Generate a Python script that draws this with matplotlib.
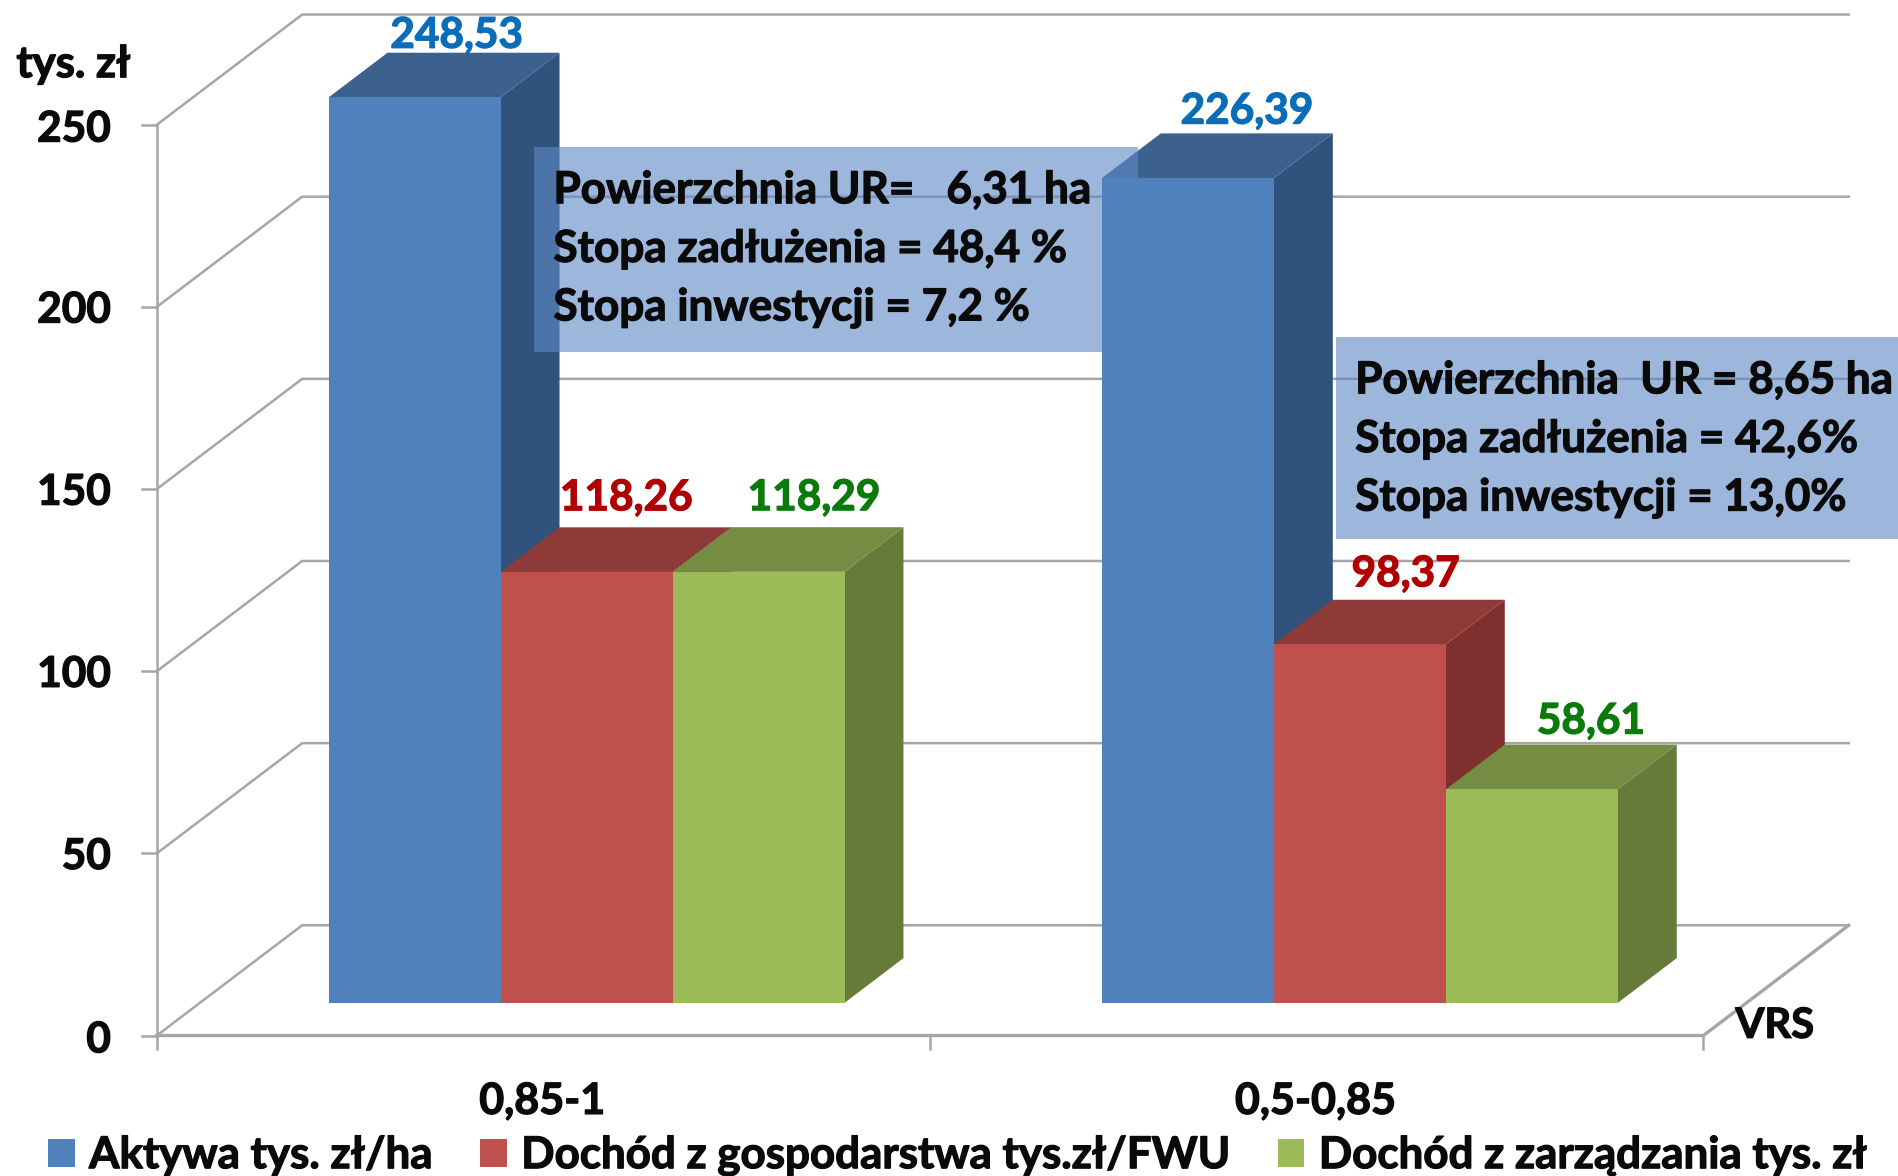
import matplotlib
matplotlib.use("Agg")
import matplotlib.pyplot as plt
from matplotlib.patches import Polygon, Rectangle
import matplotlib.patheffects as pe

plt.rcParams['font.family'] = ['Lato', 'DejaVu Sans']

categories = ['0,85-1', '0,5-0,85']
series_names = ['Aktywa tys. zł/ha', 'Dochód z gospodarstwa tys.zł/FWU', 'Dochód z zarządzania tys. zł']
aktywa = [248.53, 226.39]
dochod_gosp = [118.26, 98.37]
dochod_zarz = [118.29, 58.61]
y_ticks = [0, 50, 100, 150, 200, 250]
box_texts = [
    ['Powierzchnia UR=   6,31 ha', 'Stopa zadłużenia = 48,4 %', 'Stopa inwestycji = 7,2 %'],
    ['Powierzchnia  UR = 8,65 ha', 'Stopa zadłużenia = 42,6%', 'Stopa inwestycji = 13,0%'],
]
series = [aktywa, dochod_gosp, dochod_zarz]
front = ['#4F81BD', '#C0504D', '#9BBB59']
side = ['#31527C', '#7F302E', '#667A3A']
top = ['#3C618F', '#8E3A38', '#748D43']
label_col = ['#0B6CB8', '#B00000', '#0A7A0A']
# label nudges in displayed pixels (series, category)
label_nudge = [[(-1, -2), (13, 2)], [(-3, 8), (2, 5)], [(10, 8), (13, 3)]]
tick_nudge = [1, 0, 0, 0, 0, 1]

W, H = 1899, 1176
fig = plt.figure(figsize=(W / 100, H / 100), dpi=100, facecolor='white')
ax = fig.add_axes([0, 0, 1, 1])
ax.axis('off')
PXX = 638.5   # displayed px per category
PXY = 3.008   # displayed px per value unit
x0, y0 = 129.5, 855
ax.set_xlim((0 - x0) / PXX, (1568 - x0) / PXX)
ax.set_ylim((y0 - 971) / PXY, (y0 - 0) / PXY)

DX, DY = 120 / PXX, 91 / PXY
BAR_D = 0.297
BAR_L = 0.405
BW = 142 / PXX
grid = '#A6A6A6'
ink = '#0A0A0A'
ymax = 250
ncat = len(categories)
heavy = [pe.withStroke(linewidth=0.9, foreground=ink)]

def bold(x, y, s, size, color=ink, ha='left', z=21):
    return ax.text(x, y, s, fontsize=size, fontweight='bold', color=color, ha=ha, va='center', zorder=z,
                   path_effects=[pe.withStroke(linewidth=0.9, foreground=color)])

# walls
for v in y_ticks:
    ax.plot([0, DX, ncat + DX], [v, v + DY, v + DY], color=grid, lw=1.8, zorder=1, solid_joinstyle='miter')
    ax.plot([-12 / PXX, 0], [v, v], color=grid, lw=1.8, zorder=1)
ax.plot([0, 0], [0, ymax], color=grid, lw=1.8, zorder=1)
ax.plot([0, ncat, ncat + DX], [0, 0, DY], color=grid, lw=2.4, zorder=1)
for i in range(ncat + 1):
    ax.plot([i, i], [0, -11 / PXY], color=grid, lw=1.8, zorder=1)

# bars
for c in range(ncat):
    cx = c + 0.5 + BAR_D * DX
    for s, vals in enumerate(series):
        v = vals[c]
        l = cx + (s - 1.5) * BW
        b = BAR_D * DY
        r = l + BW
        dx, dy = BAR_L * DX, BAR_L * DY
        z = 3 + c * 5 + s
        ax.add_patch(Polygon([(r, b), (r + dx, b + dy), (r + dx, b + v + dy), (r, b + v)],
                             fc=side[s], ec='none', zorder=z))
        ax.add_patch(Polygon([(l, b + v), (r, b + v), (r + dx, b + v + dy), (l + dx, b + v + dy)],
                             fc=top[s], ec='none', zorder=z))
        # fronts of the second group stay above the info box
        ax.bar(l, v, BW, bottom=b, align='edge', color=front[s], lw=0, zorder=(19 if c else z + 0.01),
               label=series_names[s] if c == 0 else None)
        nx, ny = label_nudge[s][c]
        bold(l + BW / 2 + dx * 0.67 + 0.005 + nx / PXX, b + v + dy + (16 + ny) / PXY,
             f'{v:.2f}'.replace('.', ','), 30.5, color=label_col[s], ha='center', z=22)

# info boxes
boxes = [(441, 121, 940, 291), (1103, 278, 1568, 445)]
for (a, t, e, bt), lines in zip(boxes, box_texts):
    xa, xe = (a - x0) / PXX, (e - x0) / PXX
    yt, yb = (y0 - t) / PXY, (y0 - bt) / PXY
    ax.add_patch(Rectangle((xa, yb), xe - xa, yt - yb, fc='#5E8AC5', alpha=0.61, ec='none', zorder=18))
    for k, line in enumerate(lines):
        bold(xa + 16 / PXX, yt - (36 + 48.5 * k) / PXY, line, 31.7)

# axis text
for v, n in zip(y_ticks, tick_nudge):
    bold(-38 / PXX, v - (3 + n) / PXY, str(v), 30.5, ha='right')
bold(-116 / PXX, (y0 - 53) / PXY, 'tys. zł', 31.5)
bold((1433 - x0) / PXX, (y0 - 847) / PXY, 'VRS', 30)
for c, name in enumerate(categories):
    bold(c + 0.5 - 1 / PXX, -54 / PXY, name, 31, ha='center')

leg = ax.legend(loc='center', bbox_to_anchor=(790.5 / 1568, 1 - 954 / 971), ncol=3, frameon=False,
                handlelength=0.6, handleheight=0.6, handletextpad=0.33, columnspacing=1.1, borderpad=0,
                prop={'family': ['Lato', 'DejaVu Sans'], 'weight': 'bold', 'size': 31.6})
for t in leg.get_texts():
    t.set_color(ink)
    t.set_path_effects(heavy)

fig.savefig('out.png', dpi=100, facecolor='white')
